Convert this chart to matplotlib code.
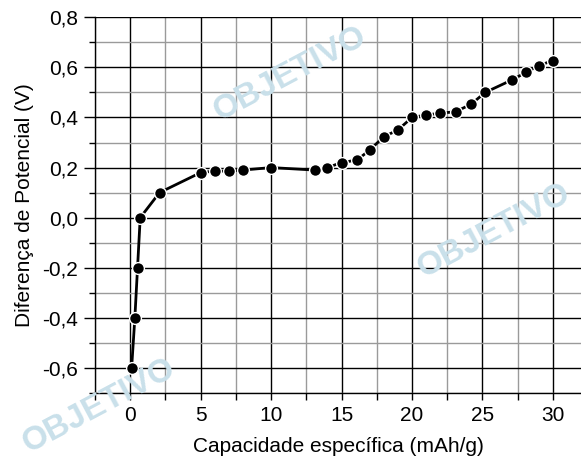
import matplotlib
matplotlib.use("Agg")
import matplotlib.pyplot as plt
from matplotlib.ticker import MultipleLocator, FuncFormatter

# capacity (mAh/g) and potential difference (V)
capacidade = [0.1, 0.33, 0.52, 0.71, 2.08, 5.0, 6.0, 7.0, 8.0, 10.0,
              13.1, 14.0, 15.0, 16.1, 17.0, 18.0, 19.0, 20.0, 21.0, 22.0,
              23.1, 24.2, 25.2, 27.1, 28.1, 29.0, 30.0]
potencial = [-0.6, -0.4, -0.2, 0.0, 0.1, 0.18, 0.186, 0.186, 0.19, 0.2,
             0.19, 0.2, 0.22, 0.23, 0.27, 0.323, 0.35, 0.4, 0.41, 0.417,
             0.423, 0.453, 0.5, 0.55, 0.58, 0.607, 0.627]

plt.rcParams['font.family'] = ['Liberation Sans', 'DejaVu Sans']

fig = plt.figure(figsize=(5.81, 4.61), dpi=100)
ax = fig.add_axes([0.1635, 0.1475, 1.0 - 0.1635, 0.9625 - 0.1475])

# faint publisher watermark
wm = dict(color='#c9e0ea', fontsize=24, fontweight='bold', ha='center',
          va='center', rotation=28, zorder=0, transform=fig.transFigure)
fig.text(0.50, 0.84, 'OBJETIVO', **wm)
fig.text(0.85, 0.50, 'OBJETIVO', **wm)
fig.text(0.17, 0.12, 'OBJETIVO', **wm)

ax.set_xlim(-2.5, 32.0)
ax.set_ylim(-0.7, 0.8)
ax.patch.set_alpha(0)

ax.xaxis.set_major_locator(MultipleLocator(5))
ax.xaxis.set_minor_locator(MultipleLocator(2.5))
ax.yaxis.set_major_locator(MultipleLocator(0.2))
ax.yaxis.set_minor_locator(MultipleLocator(0.1))
ax.yaxis.set_major_formatter(FuncFormatter(lambda v, p: ('%.1f' % v).replace('.', ',')))

ax.grid(which='major', color='black', linewidth=1.0, zorder=1)
ax.grid(which='minor', color='#9a9a9a', linewidth=1.0, zorder=1)
ax.set_axisbelow(True)

for s in ['top', 'right']:
    ax.spines[s].set_visible(False)
for s in ['left', 'bottom']:
    ax.spines[s].set_linewidth(1.0)

ax.tick_params(axis='y', which='major', direction='out', length=8, width=1,
               labelsize=15, pad=4)
ax.tick_params(axis='y', which='minor', direction='out', length=4, width=1)
ax.tick_params(axis='x', which='both', direction='out', length=5, width=1,
               labelsize=15, pad=4)

ax.plot(capacidade, potencial, color='black', linewidth=2.0, marker='o',
        markersize=8.5, markerfacecolor='black', markeredgecolor='white',
        markeredgewidth=1.0, zorder=3, clip_on=False)

ax.set_xlabel('Capacidade específica (mAh/g)', fontsize=15, labelpad=9)
ax.set_ylabel('Diferença de Potencial (V)', fontsize=15, labelpad=6)

fig.savefig('out.png', dpi=100)
